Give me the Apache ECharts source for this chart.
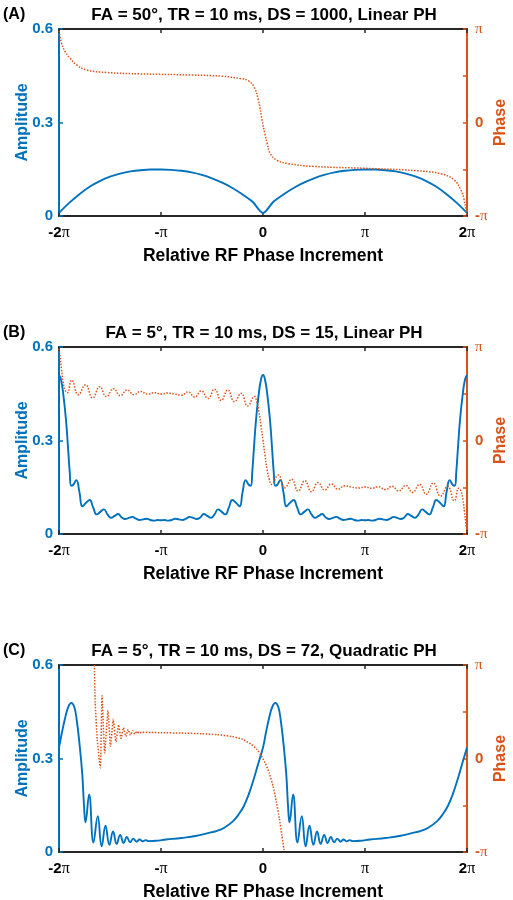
<!DOCTYPE html>
<html><head><meta charset="utf-8">
<script src="https://cdn.jsdelivr.net/npm/echarts/dist/echarts.min.js"></script>
<style>html,body{margin:0;padding:0;background:#fff}#c{width:513px;height:900px}</style>
</head><body><div id="c"></div>
<script>
// ---------- tick labels ----------
const xTickVals = [-2, -1, 0, 1, 2];
const xTickText = ['-2π', '-π', '0', 'π', '2π'];
const ampTickVals = [0, 0.3, 0.6];
const ampTickText = ['0', '0.3', '0.6'];
const phaseTickVals = [-1, 0, 1];
const phaseTickText = ['-π', '0', 'π'];

const panelLabels = ['(A)', '(B)', '(C)'];
const panelTitles = [
  'FA = 50°, TR = 10 ms, DS = 1000, Linear PH',
  'FA = 5°, TR = 10 ms, DS = 15, Linear PH',
  'FA = 5°, TR = 10 ms, DS = 72, Quadratic PH'
];

// ---------- Panel A (x in units of π, phase in units of π) ----------
const ampA_x = [-2,-1.9,-1.8,-1.7,-1.6,-1.5,-1.4,-1.3,-1.2,-1.1,-1,-0.9,-0.8,-0.7,-0.6,-0.5,-0.4,-0.3,-0.2,-0.1,0,
  0.1,0.2,0.3,0.4,0.5,0.6,0.7,0.8,0.9,1,1.1,1.2,1.3,1.4,1.5,1.6,1.7,1.8,1.9,2];
const ampA_y = [0.01,0.042,0.07,0.094,0.112,0.126,0.136,0.143,0.147,0.149,0.149,0.148,0.145,0.14,0.132,0.121,0.107,0.09,0.069,0.045,0.01,
  0.045,0.069,0.09,0.107,0.121,0.132,0.14,0.145,0.148,0.149,0.149,0.147,0.143,0.136,0.126,0.112,0.094,0.07,0.042,0.01];
const phaseA_x = [-2,-1.99,-1.975,-1.94,-1.89,-1.83,-1.73,-1.53,-1.2,-0.7,-0.4,-0.22,-0.15,-0.09,-0.045,
  -0.01,0.02,0.04,0.07,0.13,0.25,0.5,1.0,1.5,1.75,1.87,1.94,1.97,1.99,2.0];
const phaseA_y = [0.98,0.92,0.85,0.757,0.686,0.618,0.562,0.535,0.52,0.508,0.495,0.47,0.45,0.385,0.24,
  0.03,-0.13,-0.22,-0.33,-0.4,-0.44,-0.47,-0.49,-0.515,-0.55,-0.61,-0.72,-0.82,-0.93,-0.99];

// ---------- Panel B ----------
const ampB_x = [
  -2,-1.98,-1.955,-1.93,-1.91,-1.895,-1.88,-1.86,-1.83,-1.8,-1.77,-1.735,-1.7,-1.665,-1.63,-1.595,-1.56,-1.525,-1.49,-1.455,-1.42,-1.385,-1.35,-1.315,-1.28,-1.245,-1.21,-1.175,-1.14,-1.105,-1.07,-1.035,-1.0,
  -0.965,-0.93,-0.895,-0.86,-0.825,-0.79,-0.755,-0.72,-0.685,-0.65,-0.615,-0.58,-0.545,-0.51,-0.475,-0.44,-0.405,-0.37,-0.335,-0.3,-0.265,-0.23,-0.2,-0.17,-0.14,-0.12,-0.105,-0.09,-0.07,-0.045,-0.02,0,
  0.02,0.045,0.07,0.09,0.105,0.12,0.14,0.17,0.2,0.23,0.265,0.3,0.335,0.37,0.405,0.44,0.475,0.51,0.545,0.58,0.615,0.65,0.685,0.72,0.755,0.79,0.825,0.86,0.895,0.93,0.965,1.0,
  1.035,1.07,1.105,1.14,1.175,1.21,1.245,1.28,1.315,1.35,1.385,1.42,1.455,1.49,1.525,1.56,1.595,1.63,1.665,1.7,1.735,1.77,1.8,1.83,1.86,1.88,1.895,1.91,1.93,1.955,1.98,2.0];
const ampB_y = [
  0.51,0.495,0.44,0.36,0.27,0.2,0.155,0.158,0.173,0.135,0.089,0.1,0.109,0.085,0.063,0.071,0.079,0.063,0.052,0.058,0.064,0.053,0.048,0.052,0.055,0.049,0.045,0.047,0.049,0.045,0.043,0.045,0.044,
  0.045,0.043,0.045,0.049,0.047,0.045,0.049,0.055,0.052,0.048,0.053,0.064,0.058,0.052,0.063,0.079,0.071,0.063,0.085,0.109,0.1,0.089,0.135,0.173,0.158,0.155,0.2,0.27,0.36,0.44,0.495,0.51,
  0.495,0.44,0.36,0.27,0.2,0.155,0.158,0.173,0.135,0.089,0.1,0.109,0.085,0.063,0.071,0.079,0.063,0.052,0.058,0.064,0.053,0.048,0.052,0.055,0.049,0.045,0.047,0.049,0.045,0.043,0.045,0.044,
  0.045,0.043,0.045,0.049,0.047,0.045,0.049,0.055,0.052,0.048,0.053,0.064,0.058,0.052,0.063,0.079,0.071,0.063,0.085,0.109,0.1,0.089,0.135,0.173,0.158,0.155,0.2,0.27,0.36,0.44,0.495,0.51];
const phaseB_x = [
  -2,-1.99,-1.975,-1.96,-1.94,-1.92,-1.875,-1.81,-1.74,-1.67,-1.6,-1.535,-1.465,-1.4,-1.33,-1.265,-1.2,-1.13,-1.065,-1.0,
  -0.935,-0.87,-0.8,-0.735,-0.67,-0.605,-0.54,-0.475,-0.41,-0.345,-0.28,-0.215,-0.15,-0.085,-0.06,-0.04,-0.02,0,
  0.02,0.04,0.06,0.085,0.15,0.215,0.28,0.345,0.41,0.475,0.54,0.605,0.67,0.735,0.8,0.87,0.935,
  1.0,1.065,1.13,1.2,1.265,1.33,1.4,1.465,1.535,1.6,1.67,1.74,1.81,1.875,1.92,1.94,1.96,1.975,1.99,2.0];
const phaseB_y = [
  0.98,0.9,0.76,0.63,0.54,0.51,0.645,0.49,0.595,0.455,0.575,0.47,0.555,0.48,0.54,0.49,0.525,0.495,0.512,0.497,
  0.508,0.5,0.485,0.52,0.465,0.53,0.45,0.548,0.43,0.54,0.415,0.505,0.37,0.47,0.41,0.31,0.16,0,
  -0.16,-0.31,-0.41,-0.47,-0.37,-0.505,-0.415,-0.54,-0.43,-0.548,-0.45,-0.53,-0.465,-0.52,-0.485,-0.5,-0.508,
  -0.497,-0.512,-0.495,-0.525,-0.49,-0.54,-0.48,-0.555,-0.47,-0.575,-0.455,-0.595,-0.49,-0.645,-0.51,-0.54,-0.63,-0.76,-0.9,-0.98];

// ---------- Panel C ----------
const ampC_x = [
  -2,-1.97,-1.94,-1.91,-1.88,-1.85,-1.825,-1.8,-1.772,-1.755,-1.74,-1.705,-1.662,-1.62,-1.582,-1.544,-1.506,-1.47,-1.435,-1.4,
  -1.367,-1.335,-1.303,-1.272,-1.24,-1.21,-1.18,-1.15,-1.12,-1.05,-0.95,-0.8,-0.65,-0.55,-0.45,-0.38,-0.29,-0.24,-0.19,-0.14,-0.09,-0.05,
  0,0.03,0.06,0.09,0.12,0.15,0.175,0.2,0.228,0.245,0.26,0.295,0.338,0.38,0.418,0.456,0.494,0.53,0.565,0.6,
  0.633,0.665,0.697,0.728,0.76,0.79,0.82,0.85,0.88,0.95,1.05,1.2,1.35,1.45,1.55,1.62,1.71,1.76,1.81,1.86,1.91,1.95,2.0];
const ampC_y = [
  0.335,0.385,0.43,0.465,0.478,0.465,0.42,0.35,0.25,0.15,0.095,0.185,0.03,0.115,0.018,0.084,0.023,0.066,0.026,0.055,
  0.029,0.048,0.031,0.043,0.033,0.04,0.034,0.038,0.035,0.036,0.04,0.045,0.052,0.06,0.068,0.078,0.1,0.12,0.146,0.185,0.235,0.28,
  0.335,0.385,0.43,0.465,0.478,0.465,0.42,0.35,0.25,0.15,0.095,0.185,0.03,0.115,0.018,0.084,0.023,0.066,0.026,0.055,
  0.029,0.048,0.031,0.043,0.033,0.04,0.034,0.038,0.035,0.036,0.04,0.045,0.052,0.06,0.068,0.078,0.1,0.12,0.146,0.185,0.235,0.28,0.335];
const phaseC_x = [
  -1.653,-1.645,-1.625,-1.595,-1.578,-1.552,-1.52,-1.495,-1.468,-1.442,-1.416,-1.392,-1.368,-1.345,-1.322,-1.3,-1.278,-1.257,-1.236,-1.215,-1.19,
  -1.1,-1.0,-0.8,-0.6,-0.45,-0.3,-0.2,-0.12,-0.06,-0.02,0.02,0.06,0.1,0.13,0.16,0.185,0.205,0.21];
const phaseC_y = [
  1.0,0.6,0.2,-0.1,0.67,0.06,0.51,0.13,0.42,0.18,0.36,0.215,0.33,0.235,0.31,0.25,0.298,0.26,0.29,0.27,0.282,
  0.278,0.276,0.272,0.265,0.255,0.235,0.205,0.155,0.1,0.035,-0.045,-0.15,-0.3,-0.46,-0.64,-0.82,-0.97,-1.0];

// ---------- styling ----------
const BLUE = '#0072BD', ORANGE = '#D95319', BLACK = '#262626';
const SANS = 'Liberation Sans, Arial, Helvetica, sans-serif';
const SERIF = 'Liberation Serif, Times New Roman, serif';
const gridTops = [29, 347, 665];
const GRID_LEFT = 59, GRID_W = 408, GRID_H = 187;

const zip = (xs, ys) => xs.map((x, i) => [x, ys[i]]);
function piRich(s, cls, piCls) {
  if (s.indexOf('π') < 0) return '{' + cls + '|' + s + '}';
  const pre = s.replace('π', '');
  return (pre ? '{' + cls + '|' + pre + '}' : '') + '{' + piCls + '|π}';
}
function lookup(vals, texts, v) {
  const i = vals.findIndex(t => Math.abs(t - v) < 1e-6);
  return i < 0 ? null : texts[i];
}

const series = [];
const grids = [], xAxes = [], yAxes = [], titles = [];
const panels = [
  [ampA_x, ampA_y, phaseA_x, phaseA_y, 0.3, 0.4],
  [ampB_x, ampB_y, phaseB_x, phaseB_y, 0.5, 0.5],
  [ampC_x, ampC_y, phaseC_x, phaseC_y, 0.45, 0.15]
];

panels.forEach((p, i) => {
  const top = gridTops[i];
  grids.push({left: GRID_LEFT, top: top, width: GRID_W, height: GRID_H, containLabel: false, outerBoundsMode: 'none'});
  titles.push({text: panelTitles[i], left: GRID_LEFT + GRID_W / 2 + 1, top: top - 22, textAlign: 'center', padding: 0,
    textStyle: {fontFamily: SANS, fontWeight: 'bold', fontSize: 17, color: '#000'}});
  titles.push({text: panelLabels[i], left: 3, top: top - 22, padding: 0,
    textStyle: {fontFamily: SANS, fontWeight: 'bold', fontSize: 16, color: '#000'}});
  xAxes.push({
    type: 'value', gridIndex: i, min: -2, max: 2, interval: 1, position: 'bottom',
    axisLine: {show: true, onZero: false, lineStyle: {color: BLACK, width: 2}},
    axisTick: {show: true, inside: true, length: 4, lineStyle: {color: BLACK, width: 1.5}},
    splitLine: {show: false},
    axisLabel: {margin: 9, formatter: v => { const t = lookup(xTickVals, xTickText, v); return t === null ? '' : piRich(t, 'b', 'p'); },
      rich: {b: {fontFamily: SANS, fontWeight: 'bold', fontSize: 15, color: '#000'},
             p: {fontFamily: SERIF, fontSize: 16, color: '#000'}}},
    name: 'Relative RF Phase Increment', nameLocation: 'middle', nameGap: 31, nameMoveOverlap: false,
    nameTextStyle: {fontFamily: SANS, fontWeight: 'bold', fontSize: 17.5, color: '#000'}
  });
  xAxes.push({
    type: 'value', gridIndex: i, min: -2, max: 2, interval: 1, position: 'top',
    axisLine: {show: true, onZero: false, lineStyle: {color: BLACK, width: 2}},
    axisTick: {show: true, inside: true, length: 4, lineStyle: {color: BLACK, width: 1.5}},
    splitLine: {show: false}, axisLabel: {show: false}
  });
  yAxes.push({
    type: 'value', gridIndex: i, min: 0, max: 0.6, interval: 0.3, position: 'left',
    axisLine: {show: true, onZero: false, lineStyle: {color: BLUE, width: 2}},
    axisTick: {show: true, inside: true, length: 4, lineStyle: {color: BLUE, width: 1.5}},
    splitLine: {show: false},
    axisLabel: {margin: 6, fontFamily: SANS, fontWeight: 'bold', fontSize: 15, color: BLUE,
      formatter: v => { const t = lookup(ampTickVals, ampTickText, v); return t === null ? '' : t; }},
    name: 'Amplitude', nameLocation: 'middle', nameGap: 28, nameRotate: 90, nameMoveOverlap: false,
    nameTextStyle: {fontFamily: SANS, fontWeight: 'bold', fontSize: 16, color: BLUE}
  });
  yAxes.push({
    type: 'value', gridIndex: i, min: -1, max: 1, interval: 0.5, position: 'right',
    axisLine: {show: true, onZero: false, lineStyle: {color: ORANGE, width: 2}},
    axisTick: {show: true, inside: true, length: 4, lineStyle: {color: ORANGE, width: 1.5}},
    splitLine: {show: false},
    axisLabel: {margin: 8, formatter: v => { const t = lookup(phaseTickVals, phaseTickText, v); return t === null ? '' : piRich(t, 'b', 'p'); },
      rich: {b: {fontFamily: SANS, fontWeight: 'bold', fontSize: 15, color: ORANGE},
             p: {fontFamily: SERIF, fontSize: 15, color: ORANGE}}},
    name: 'Phase', nameLocation: 'middle', nameGap: 26, nameRotate: 90, nameMoveOverlap: false,
    nameTextStyle: {fontFamily: SANS, fontWeight: 'bold', fontSize: 16, color: ORANGE}
  });
  series.push({
    type: 'line', xAxisIndex: i * 2, yAxisIndex: i * 2, data: zip(p[0], p[1]),
    showSymbol: false, smooth: p[4], z: 3,
    lineStyle: {color: BLUE, width: 1.9}, animation: false
  });
  series.push({
    type: 'line', xAxisIndex: i * 2, yAxisIndex: i * 2 + 1, data: zip(p[2], p[3]),
    showSymbol: false, smooth: p[5], z: 4,
    lineStyle: {color: ORANGE, width: 1.5, type: 'dotted'}, animation: false
  });
});

const chart = echarts.init(document.getElementById('c'), null, {renderer: 'canvas'});
chart.setOption({
  backgroundColor: '#fff',
  animation: false,
  title: titles,
  grid: grids,
  xAxis: xAxes,
  yAxis: yAxes,
  series: series
});
</script></body></html>
